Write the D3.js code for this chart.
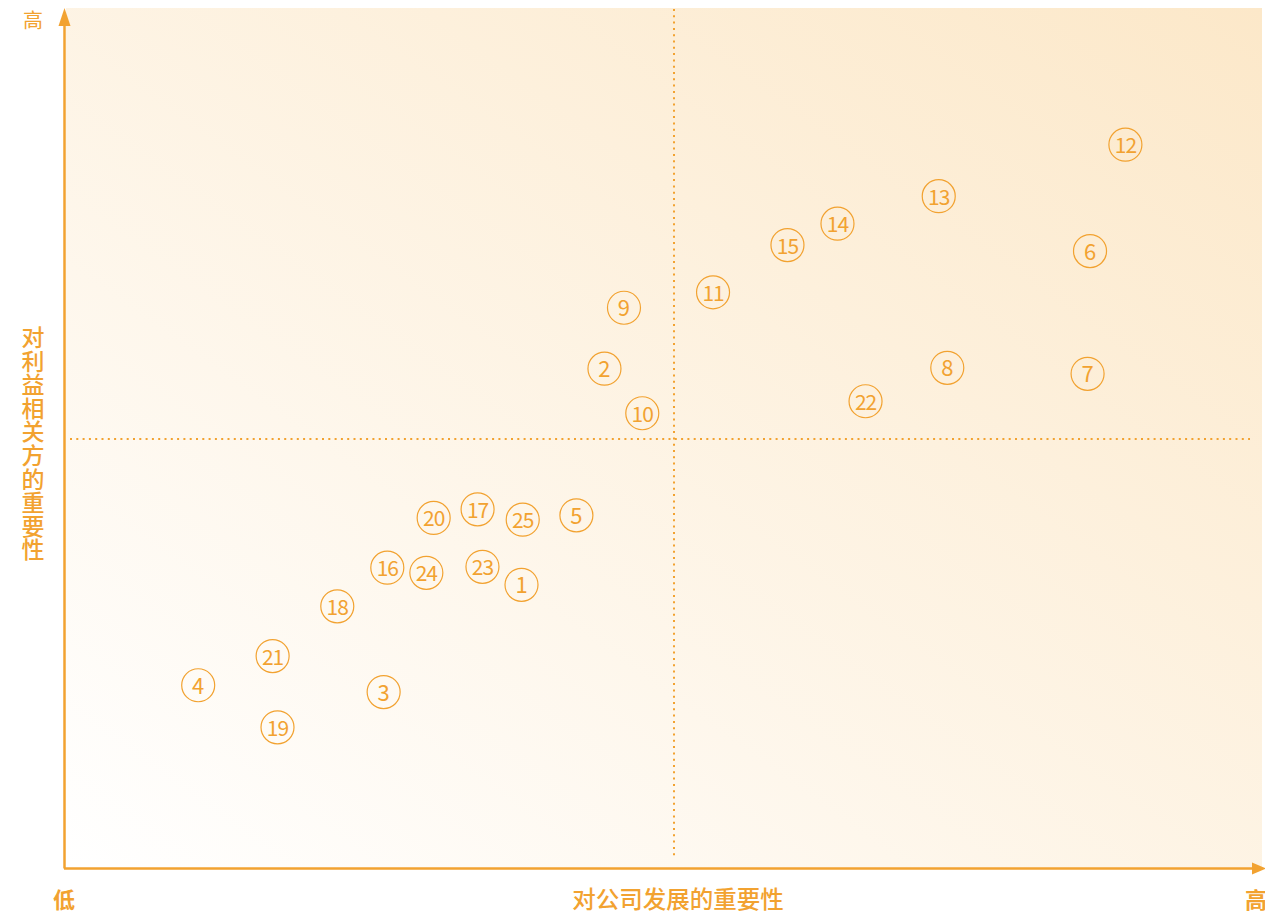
<!DOCTYPE html>
<html><head><meta charset="utf-8">
<script src="https://cdn.jsdelivr.net/npm/d3@7"></script>
<style>
html,body{margin:0;padding:0;background:#fff;}
svg{display:block;font-family:"Noto Sans CJK SC","Noto Sans",sans-serif;}
</style></head>
<body><svg id="c" width="1265" height="915"></svg>
<script>
const ids = ["1","2","3","4","5","6","7","8","9","10","11","12","13","14","15","16","17","18","19","20","21","22","23","24","25"];
const companyImportance = [37.5,44.3,26.2,11.0,42.0,84.1,83.9,72.4,45.9,47.4,53.2,87.0,71.7,63.4,59.3,26.5,33.9,22.4,17.5,30.3,17.1,65.7,34.3,29.7,37.6];
const stakeholderImportance = [33.0,58.2,20.5,21.3,41.1,71.9,57.6,58.3,65.3,53.0,67.1,84.3,78.3,75.1,72.6,35.0,41.8,30.5,16.4,40.8,24.7,54.4,35.1,34.4,40.6];
const xTitle = "对公司发展的重要性";
const yTitle = "对利益相关方的重要性";
const lowLabel = "低", highLabel = "高";

const orange = "#f2a230";
const svg = d3.select("#c");
const x = d3.scaleLinear().domain([0,100]).range([64,1284]);
const y = d3.scaleLinear().domain([0,100]).range([868,10]);

const defs = svg.append("defs");
const g = defs.append("linearGradient").attr("id","bg").attr("x1","0").attr("y1","1").attr("x2","1").attr("y2","0");
g.append("stop").attr("offset","0%").attr("stop-color","#ffffff");
g.append("stop").attr("offset","100%").attr("stop-color","#fce8c9");

svg.append("rect").attr("x",66).attr("y",8).attr("width",1262-66).attr("height",868-8).attr("fill","url(#bg)");

// dotted quadrant lines
svg.append("line").attr("x1",x(50)).attr("x2",x(50)).attr("y1",9).attr("y2",858)
  .attr("stroke",orange).attr("stroke-width",2).attr("stroke-dasharray","2,4.3");
svg.append("line").attr("x1",70).attr("x2",1250).attr("y1",y(50)).attr("y2",y(50))
  .attr("stroke",orange).attr("stroke-width",2).attr("stroke-dasharray","2,4.3");

// axes
svg.append("line").attr("x1",64.5).attr("x2",64.5).attr("y1",868.5).attr("y2",22).attr("stroke",orange).attr("stroke-width",2.5);
svg.append("line").attr("x1",64).attr("x2",1252).attr("y1",868.5).attr("y2",868.5).attr("stroke",orange).attr("stroke-width",2.5);
svg.append("path").attr("d","M64.5,8 L70.5,26 L58.5,26 Z").attr("fill",orange);
svg.append("path").attr("d","M1266,868.5 L1252,862.5 L1252,874.5 Z").attr("fill",orange);

// labels
svg.append("text").attr("x",33).attr("y",28).attr("text-anchor","middle").attr("font-size",20).attr("fill",orange).text(highLabel);
svg.append("text").attr("x",64).attr("y",908).attr("text-anchor","middle").attr("font-size",22).attr("font-weight",600).attr("fill",orange).text(lowLabel);
svg.append("text").attr("x",1256).attr("y",908).attr("text-anchor","middle").attr("font-size",22).attr("font-weight",600).attr("fill",orange).text(highLabel);
svg.append("text").attr("x",678).attr("y",908).attr("text-anchor","middle").attr("font-size",23.5).attr("font-weight",500).attr("fill",orange).text(xTitle);
const yt = svg.append("text").attr("text-anchor","middle").attr("font-size",23).attr("font-weight",500).attr("fill",orange);
yTitle.split("").forEach((ch,i)=>{
  yt.append("tspan").attr("x",33).attr("y",346+i*23.6).text(ch);
});

// points
const data = ids.map((id,i)=>({id, cx:companyImportance[i], cy:stakeholderImportance[i]}));
const pts = svg.append("g").selectAll("g").data(data).join("g")
  .attr("transform",d=>`translate(${x(d.cx)},${y(d.cy)})`);
pts.append("circle").attr("r",16.5).attr("fill","none").attr("stroke",orange).attr("stroke-width",1.2);
pts.append("text").attr("text-anchor","middle").attr("y",8.5).attr("font-size",d=>d.id.length>1?21:22)
  .attr("letter-spacing",d=>d.id.length>1?-1:0)
  .attr("fill",orange).text(d=>d.id);
</script></body></html>
